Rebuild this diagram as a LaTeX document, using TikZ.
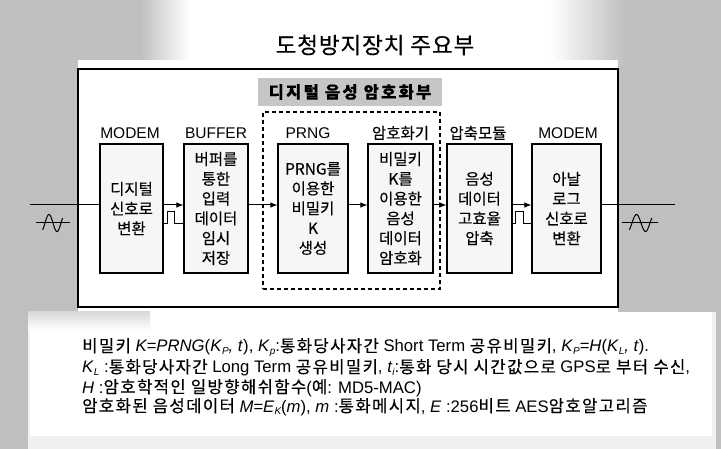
\documentclass[tikz,border=0pt]{standalone}
\usepackage{fontspec}
\setmainfont{Liberation Sans}
\newfontfamily\kr{Noto Sans CJK KR}[FakeBold=0.3]
\newfontfamily\krs{Noto Sans CJK KR}[FakeBold=0.3,LetterSpace=8]
\usetikzlibrary{arrows.meta}
\newcommand{\sbs}[1]{\raisebox{-0.3ex}{\fontsize{10}{10}\selectfont\itshape #1}}
\newcommand{\kt}[1]{{\krs #1}}
\begin{document}
\begin{tikzpicture}[x=1pt,y=-1pt,
  modbox/.style={draw, line width=1.1pt, fill=gray!7, minimum height=129pt, inner sep=0pt, align=center, font=\kr\fontsize{15.5}{19.8}\selectfont},
  lbl/.style={font=\fontsize{15.5}{18}\selectfont},
  klbl/.style={font=\kr\fontsize{15.5}{18}\selectfont},
  arr/.style={line width=1pt, -{Latex[length=7pt,width=5.5pt]}},
  wire/.style={line width=1pt},
  btxt/.style={anchor=base west, inner sep=0pt, font=\fontsize{16.7}{18}\selectfont},
]
\useasboundingbox (0,0) rectangle (721,449);
% background halftone
\fill[gray!50] (0,0) rectangle (721,449);
\fill[white] (190,0) rectangle (550,70);
\shade[left color=gray!50, right color=white] (140,0) rectangle (190,66);
\shade[left color=white, right color=gray!50] (550,0) rectangle (625,66);
\fill[white] (78,60) rectangle (618,312);
\fill[gray!12] (28,312) rectangle (716,449);
\fill[white] (150,312) rectangle (712,436);
\fill[white] (30,330) rectangle (712,436);
\shade[top color=gray!30, bottom color=white] (28,312) rectangle (150,330);
% frame
\node[draw, line width=1.6pt, minimum width=540pt, minimum height=238pt, inner sep=0pt] (frame) at (348,188) {};
\node[font=\kr\fontsize{22.5}{24}\selectfont\addfontfeatures{LetterSpace=4}] (title) at (375,45) {도청방지장치 주요부};
\node[fill=gray!45, minimum width=184pt, minimum height=28pt, inner sep=0pt,
      font=\kr\bfseries\fontsize{16.5}{18}\selectfont\addfontfeatures{LetterSpace=14}] (dlabel) at (350,92) {디지털 음성 암호화부};
\node[draw, dashed, dash pattern=on 4pt off 3pt, line width=1.3pt, minimum width=177pt, minimum height=177pt, inner sep=0pt] (grp) at (351.5,200.5) {};
% module boxes
\node[modbox, minimum width=63pt] (b1) at (131.5,208.5) {디지털\\신호로\\변환};
\node[modbox, minimum width=64pt] (b2) at (216,208.5) {버퍼를\\통한\\입력\\데이터\\임시\\저장};
\node[modbox, minimum width=70pt] (b3) at (313,208.5) {PRNG를\\이용한\\비밀키\\K\\생성};
\node[modbox, minimum width=65pt] (b4) at (400.5,208.5) {비밀키\\K를\\이용한\\음성\\데이터\\암호화};
\node[modbox, minimum width=65pt] (b5) at (479.5,208.5) {음성\\데이터\\고효율\\압축};
\node[modbox, minimum width=69pt] (b6) at (566.5,208.5) {아날\\로그\\신호로\\변환};
% labels
\node[lbl] (l1) at (130,133) {MODEM};
\node[lbl] (l2) at (216,133) {BUFFER};
\node[lbl] (l3) at (308,133) {PRNG};
\node[klbl] (l4) at (400.5,133) {암호화기};
\node[klbl] (l5) at (478,133) {압축모듈};
\node[lbl] (l6) at (568,133) {MODEM};
% connectors
\coordinate (inL) at (30,205);
\coordinate (outR) at (675,205);
\draw[wire] (inL) -- ([yshift=3.5pt]b1.west);
\draw[arr] ([yshift=3.5pt]b1.east) -- ([yshift=3.5pt]b2.west);
\draw[arr] ([yshift=3.5pt]b2.east) -- ([yshift=3.5pt]b3.west);
\draw[arr] ([yshift=3.5pt]b3.east) -- ([yshift=3.5pt]b4.west);
\draw[arr] ([yshift=3.5pt]b4.east) -- ([yshift=3.5pt]b5.west);
\draw[arr] ([yshift=3.5pt]b5.east) -- ([yshift=3.5pt]b6.west);
\draw[wire] ([yshift=3.5pt]b6.east) -- (outR);
% pulses
\draw[wire] ([yshift=-15.5pt]b1.east) -- ++(4,0) -- ++(0,-12) -- ++(7,0) -- ++(0,12) -- ([yshift=-15.5pt]b2.west);
\draw[wire] ([yshift=-15.5pt]b5.east) -- ++(3,0) -- ++(0,-12) -- ++(8,0) -- ++(0,12) -- ([yshift=-15.5pt]b6.west);
% analog signal symbols
\draw[wire] (36,223) -- (70,223);
\draw[wire, domain=-54:396, samples=50, variable=\t] plot ({53+(\t-180)*0.0445},{223-8.5*sin(\t)});
\draw[wire] (622,223) -- (658,223);
\draw[wire, domain=-54:396, samples=50, variable=\t] plot ({641+(\t-180)*0.05},{223-8.5*sin(\t)});
% bottom text
\node[btxt] (t1) at (82,352) {\kt{비밀키} \textit{K=PRNG}(\textit{K}\sbs{P}\textit{, t}), \textit{K}\sbs{p}:\kt{통화당사자간} Short Term \kt{공유비밀키}, \textit{K}\sbs{P}\textit{=H}(\textit{K}\sbs{L}\textit{, t}).};
\node[btxt] (t2) at (82,373) {\textit{K}\sbs{L} :\kt{통화당사자간} Long Term \kt{공유비밀키}, \textit{t}\sbs{i}:\kt{통화 당시 시간값으로} GPS\kt{로 부터 수신},};
\node[btxt] (t3) at (82,393) {\textit{H} :\kt{암호학적인 일방향해쉬함수}(\kt{예}: MD5-MAC)};
\node[btxt] (t4) at (82,412) {\kt{암호화된 음성데이터} \textit{M=E}\sbs{K}(\textit{m}), \textit{m} :\kt{통화메시지}, \textit{E} :256\kt{비트} AES\kt{암호알고리즘}};
\end{tikzpicture}
\end{document}
